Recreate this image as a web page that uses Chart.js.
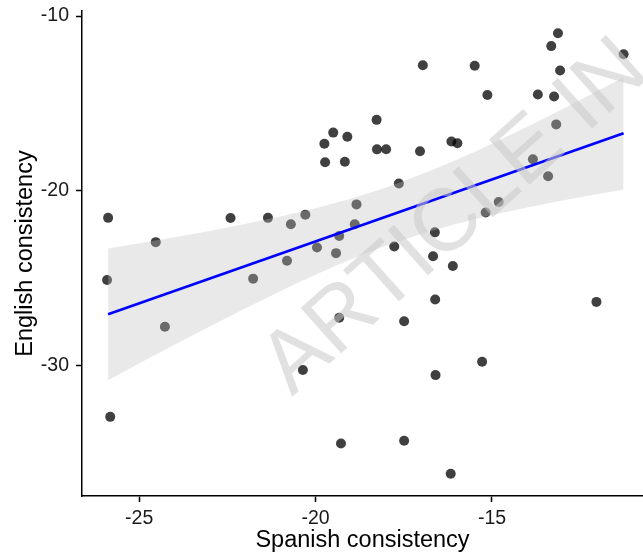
<!DOCTYPE html>
<html><head><meta charset="utf-8">
<script src="https://cdn.jsdelivr.net/npm/chart.js@4.4.0/dist/chart.umd.min.js"></script>
<style>html,body{margin:0;padding:0;background:#fff;}canvas{display:block;}</style>
</head><body>
<canvas id="c" width="643" height="556"></canvas>
<script>
const spanish = [-25.88,-25.91,-25.82,-24.53,-24.27,-22.41,-21.77,-21.35,-20.81,-20.70,-20.29,-20.36,-19.96,-19.75,-19.73,-19.50,-19.10,-19.42,-19.33,-19.33,-19.28,-19.17,-18.84,-18.89,-18.27,-18.26,-18.00,-17.77,-17.64,-17.49,-17.49,-17.04,-16.96,-16.67,-16.62,-16.61,-16.60,-16.17,-16.15,-15.98,-16.11,-15.49,-15.28,-15.18,-15.13,-14.81,-13.84,-13.70,-13.41,-13.32,-13.24,-13.18,-13.13,-13.07,-12.04,-11.27];
const english = [-21.55,-25.11,-32.94,-22.94,-27.78,-21.56,-25.03,-21.55,-24.00,-21.92,-21.37,-30.26,-23.25,-17.31,-18.37,-16.67,-16.91,-23.57,-22.59,-27.27,-34.46,-18.34,-20.78,-21.92,-15.94,-17.63,-17.62,-23.19,-19.58,-27.47,-34.31,-17.74,-12.82,-23.75,-22.38,-26.22,-30.55,-36.20,-17.18,-17.28,-24.31,-12.84,-29.79,-21.24,-14.52,-20.64,-18.20,-14.49,-19.17,-11.72,-14.60,-16.20,-10.98,-13.12,-26.36,-12.19];
const fitX = [-25.88, -11.27];
const fitY = [-27.07, -16.71];
const bandX = [-25.88, -24, -22, -20, -18, -16, -14, -12, -11.27];
const bandUpper = [-23.30, -22.66, -21.90, -21.00, -19.81, -18.23, -16.34, -14.28, -13.50];
const bandLower = [-30.84, -28.82, -26.74, -24.80, -23.15, -21.89, -20.96, -20.18, -19.92];
const xTicks = [-25, -20, -15];
const yTicks = [-30, -20, -10];
const xTitle = 'Spanish consistency';
const yTitle = 'English consistency';
const watermark = 'ARTICLE IN';

const FONT = "'Liberation Sans', Arial, Helvetica, sans-serif";
const pts = spanish.map((x, i) => ({x: x, y: english[i]}));
const fitPts = fitX.map((x, i) => ({x: x, y: fitY[i]}));
const upPts = bandX.map((x, i) => ({x: x, y: bandUpper[i]}));
const loPts = bandX.map((x, i) => ({x: x, y: bandLower[i]}));

const stretchPlugin = {
  id: 'stretch',
  afterLayout(chart) {
    const s = chart.scales.x;
    const d = chart.width - s.right;
    if (d > 0.5) {
      s.right += d; s.width += d;
      chart.chartArea.right += d; chart.chartArea.width += d;
      s.configure();
    }
  }
};

const watermarkPlugin = {
  id: 'watermark',
  afterDraw(chart) {
    const ctx = chart.ctx;
    ctx.save();
    ctx.translate(292, 397);
    ctx.rotate(-41.8 * Math.PI / 180);
    ctx.font = '88px ' + FONT;
    ctx.fillStyle = 'rgba(200,200,200,0.55)';
    ctx.textAlign = 'left';
    ctx.textBaseline = 'alphabetic';
    ctx.fillText(watermark, 0, 0);
    ctx.restore();
  }
};

function axisCommon(ticksArr, title, pad) {
  return {
    type: 'linear',
    afterBuildTicks: s => { s.ticks = ticksArr.map(v => ({value: v})); },
    ticks: {color: '#1a1a1a', font: {family: FONT, size: 19.5}, padding: pad, maxRotation: 0, autoSkip: false},
    grid: {display: true, drawOnChartArea: false, drawTicks: true, tickLength: 6, tickWidth: 1.5, tickColor: '#000'},
    border: {display: true, color: '#000', width: 1.5},
    title: {display: true, text: title, color: '#000', font: {family: FONT, size: 23.5}}
  };
}

const xScale = axisCommon(xTicks, xTitle, 5);
xScale.min = -26.62; xScale.max = -10.72;
xScale.title.padding = {top: 0, bottom: 1};
xScale.afterFit = s => { s.height = 60; s.paddingLeft = 0; s.paddingRight = 0; };

const yScale = axisCommon(yTicks, yTitle, 7);
yScale.min = -37.47; yScale.max = -9.71;
yScale.title.padding = {top: 11, bottom: 0};
yScale.afterFit = s => { s.width = 82; s.paddingTop = 0; s.paddingBottom = 0; };

new Chart(document.getElementById('c'), {
  type: 'scatter',
  data: {
    datasets: [
      {data: fitPts, showLine: true, borderColor: '#0000ff', borderWidth: 2.8, pointRadius: 0, fill: false},
      {data: upPts, showLine: true, borderWidth: 0, borderColor: 'rgba(0,0,0,0)', pointRadius: 0, fill: '+1', backgroundColor: 'rgba(189,189,189,0.335)', cubicInterpolationMode: 'monotone'},
      {data: loPts, showLine: true, borderWidth: 0, borderColor: 'rgba(0,0,0,0)', pointRadius: 0, fill: false, cubicInterpolationMode: 'monotone'},
      {data: pts, pointRadius: 5, pointBackgroundColor: 'rgba(0,0,0,0.75)', pointBorderWidth: 0, pointBorderColor: 'rgba(0,0,0,0)'}
    ]
  },
  options: {
    responsive: false,
    animation: false,
    devicePixelRatio: 1,
    layout: {padding: {top: 11, right: 0, left: 0, bottom: 0}},
    plugins: {legend: {display: false}, tooltip: {enabled: false}},
    scales: {x: xScale, y: yScale}
  },
  plugins: [stretchPlugin, watermarkPlugin]
});
</script>
</body></html>
